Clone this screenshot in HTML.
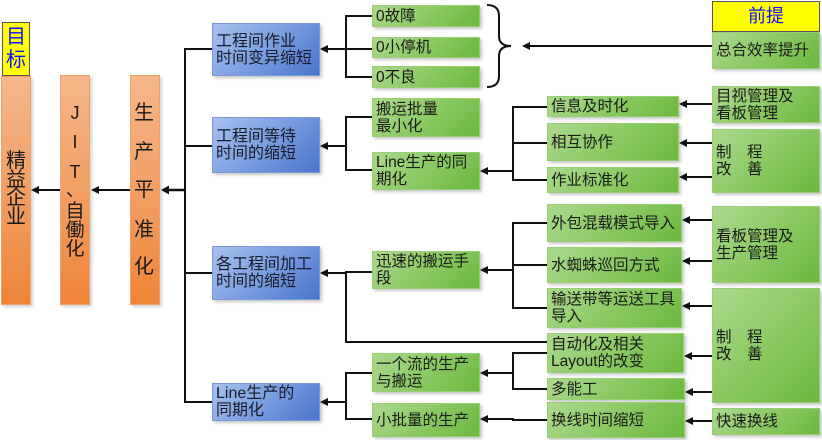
<!DOCTYPE html>
<html><head><meta charset="utf-8"><style>
html,body{margin:0;padding:0;background:#fff;}
body{width:822px;height:440px;position:relative;overflow:hidden;font-family:"Liberation Sans","Noto Sans CJK SC",sans-serif;color:#1a1a1a;}
.bx{position:absolute;box-sizing:border-box;display:flex;align-items:center;white-space:nowrap;padding-left:3px;box-shadow:2px 2px 3px rgba(0,0,0,0.22);}
.b{left:212px;width:108px;background:linear-gradient(135deg,#a6c1ef 0%,#7a9de0 50%,#4a74cc 100%);border:1px solid #7d9ad8;font-size:16px;line-height:17px;color:#1a1a2a;}
.g{background:linear-gradient(135deg,#acd98d 0%,#8cc963 50%,#6bb83f 100%);border:1px solid #96cf74;font-size:15.5px;line-height:17px;}
.m{left:372px;width:108px;}
.r{left:547px;}
.q{left:712px;width:108px;}
.o{position:absolute;box-sizing:border-box;top:75px;height:230px;width:30px;background:linear-gradient(180deg,#f5b78a 0%,#f29a5c 60%,#ee8437 100%);border:1px solid #f0a06a;box-shadow:2px 2px 3px rgba(0,0,0,0.18);}
.y{position:absolute;box-sizing:border-box;background:#ffff00;border:1px solid #555;color:#1010ff;text-align:center;}
.c{position:absolute;text-align:center;width:30px;}
svg{position:absolute;left:0;top:0;}
</style></head><body>
<svg width="822" height="440" viewBox="0 0 822 440">
<g stroke="#111" stroke-width="2" fill="none">
<line x1="60" y1="190" x2="36" y2="190"/>
<line x1="130" y1="190" x2="96" y2="190"/>
<line x1="185" y1="190" x2="166" y2="190" stroke-width="2.5"/>
<line x1="185" y1="48" x2="185" y2="403"/>
<line x1="184" y1="49" x2="212" y2="49"/>
<line x1="185" y1="146" x2="212" y2="146"/>
<line x1="185" y1="273" x2="212" y2="273"/>
<line x1="184" y1="402" x2="212" y2="402"/>
<polyline points="372,16 346,16 346,77 372,77"/>
<line x1="346" y1="49" x2="372" y2="49"/>
<line x1="346" y1="49" x2="326" y2="49"/>
<path d="M487,5 Q499,5 499,16 L499,36 Q499,46 511,46 Q499,46 499,56 L499,76 Q499,87 487,87"/>
<line x1="712" y1="46" x2="528" y2="46"/>
<polyline points="372,117 346,117 346,170 372,170"/>
<line x1="346" y1="146" x2="326" y2="146"/>
<polyline points="547,107 513,107 513,180 547,180"/>
<line x1="513" y1="143" x2="547" y2="143"/>
<line x1="513" y1="171" x2="486" y2="171"/>
<line x1="712" y1="104" x2="685" y2="104"/>
<line x1="712" y1="143" x2="685" y2="143"/>
<line x1="712" y1="177" x2="685" y2="177"/>
<polyline points="372,272 346,272 346,342 547,342"/>
<line x1="346" y1="273" x2="326" y2="273"/>
<polyline points="547,223 513,223 513,308 547,308"/>
<line x1="513" y1="265" x2="547" y2="265"/>
<line x1="513" y1="270" x2="486" y2="270"/>
<line x1="712" y1="220" x2="688" y2="220"/>
<line x1="712" y1="261" x2="688" y2="261"/>
<line x1="712" y1="306" x2="688" y2="306"/>
<line x1="712" y1="356" x2="690" y2="356"/>
<line x1="712" y1="392" x2="691" y2="392"/>
<line x1="712" y1="421" x2="691" y2="421"/>
<polyline points="372,373 346,373 346,419 372,419"/>
<line x1="346" y1="402" x2="326" y2="402"/>
<polyline points="547,353 513,353 513,389 547,389"/>
<line x1="513" y1="373" x2="486" y2="373"/>
<polyline points="547,420 513,420 513,419 486,419"/>
</g>
<g fill="#111">
<polygon points="31,190 39,186 39,194"/>
<polygon points="91,190 99,186 99,194"/>
<polygon points="161,190 169,185.5 169,194.5"/>
<polygon points="320,49 328,45 328,53"/>
<polygon points="320,146 328,142 328,150"/>
<polygon points="320,273 328,269 328,277"/>
<polygon points="320,402 328,398 328,406"/>
<polygon points="522,46 530,42 530,50"/>
<polygon points="480,171 488,167 488,175"/>
<polygon points="480,270 488,266 488,274"/>
<polygon points="480,373 488,369 488,377"/>
<polygon points="480,419 488,415 488,423"/>
<polygon points="679,104 687,100 687,108"/>
<polygon points="679,143 687,139 687,147"/>
<polygon points="679,177 687,173 687,181"/>
<polygon points="682,220 690,216 690,224"/>
<polygon points="682,261 690,257 690,265"/>
<polygon points="682,306 690,302 690,310"/>
<polygon points="684,356 692,352 692,360"/>
<polygon points="685,392 693,388 693,396"/>
<polygon points="685,421 693,417 693,425"/>
</g>
</svg>

<div class="y" style="left:2px;top:22px;width:28px;height:54px;font-size:20px;line-height:23px;padding-top:3px;">目<br>标</div>
<div class="o" style="left:1px;top:76px;width:30px;height:229px;"></div>
<div class="c" style="left:1px;top:152px;font-size:20px;line-height:18.5px;">精<br>益<br>企<br>业</div>

<div class="o" style="left:60px;"></div>
<div class="c" style="left:60px;top:102px;font-size:18px;line-height:22px;">J</div>
<div class="c" style="left:60px;top:131px;font-size:18px;line-height:22px;">I</div>
<div class="c" style="left:60px;top:161px;font-size:18px;line-height:22px;">T</div>
<div class="c" style="left:60px;top:179px;font-size:18px;line-height:22px;">、</div>
<div class="c" style="left:60px;top:202px;font-size:19px;line-height:19px;">自<br>働<br>化</div>

<div class="o" style="left:130px;"></div>
<div class="c" style="left:129px;top:102px;font-size:20px;line-height:22px;">生</div>
<div class="c" style="left:129px;top:141px;font-size:20px;line-height:22px;">产</div>
<div class="c" style="left:129px;top:179px;font-size:20px;line-height:22px;">平</div>
<div class="c" style="left:129px;top:219px;font-size:20px;line-height:22px;">准</div>
<div class="c" style="left:129px;top:256px;font-size:20px;line-height:22px;">化</div>

<div class="bx b" style="top:23px;height:53px;">工程间作业<br>时间变异缩短</div>
<div class="bx b" style="top:117px;height:56px;">工程间等待<br>时间的缩短</div>
<div class="bx b" style="top:246px;height:54px;">各工程间加工<br>时间的缩短</div>
<div class="bx b" style="top:383px;height:38px;">Line生产的<br>同期化</div>

<div class="bx g m" style="top:5px;height:22px;">0故障</div>
<div class="bx g m" style="top:37px;height:21px;">0小停机</div>
<div class="bx g m" style="top:66px;height:22px;">0不良</div>
<div class="bx g m" style="top:98px;height:39px;">搬运批量<br>最小化</div>
<div class="bx g m" style="top:152px;height:38px;">Line生产的同<br>期化</div>
<div class="bx g m" style="top:251px;height:38px;">迅速的搬运手<br>段</div>
<div class="bx g m" style="top:353px;height:39px;">一个流的生产<br>与搬运</div>
<div class="bx g m" style="top:403px;height:34px;">小批量的生产</div>

<div class="bx g r" style="top:96px;height:21px;width:132px;">信息及时化</div>
<div class="bx g r" style="top:123px;height:38px;width:132px;">相互协作</div>
<div class="bx g r" style="top:167px;height:26px;width:132px;">作业标准化</div>
<div class="bx g r" style="top:204px;height:38px;width:135px;">外包混载模式导入</div>
<div class="bx g r" style="top:247px;height:36px;width:135px;">水蜘蛛巡回方式</div>
<div class="bx g r" style="top:288px;height:40px;width:135px;">输送带等运送工具<br>导入</div>
<div class="bx g r" style="top:333px;height:40px;width:137px;">自动化及相关<br>Layout的改变</div>
<div class="bx g r" style="top:378px;height:22px;width:138px;">多能工</div>
<div class="bx g r" style="top:402px;height:36px;width:138px;">换线时间缩短</div>

<div class="y" style="left:712px;top:1px;width:108px;height:31px;font-size:18px;line-height:29px;">前提</div>
<div class="bx g q" style="top:32px;height:37px;">总合效率提升</div>
<div class="bx g q" style="top:86px;height:37px;">目视管理及<br>看板管理</div>
<div class="bx g q" style="top:129px;height:64px;">制　程<br>改　善</div>
<div class="bx g q" style="top:206px;height:77px;">看板管理及<br>生产管理</div>
<div class="bx g q" style="top:288px;height:115px;">制　程<br>改　善</div>
<div class="bx g q" style="top:408px;height:27px;">快速换线</div>
</body></html>
